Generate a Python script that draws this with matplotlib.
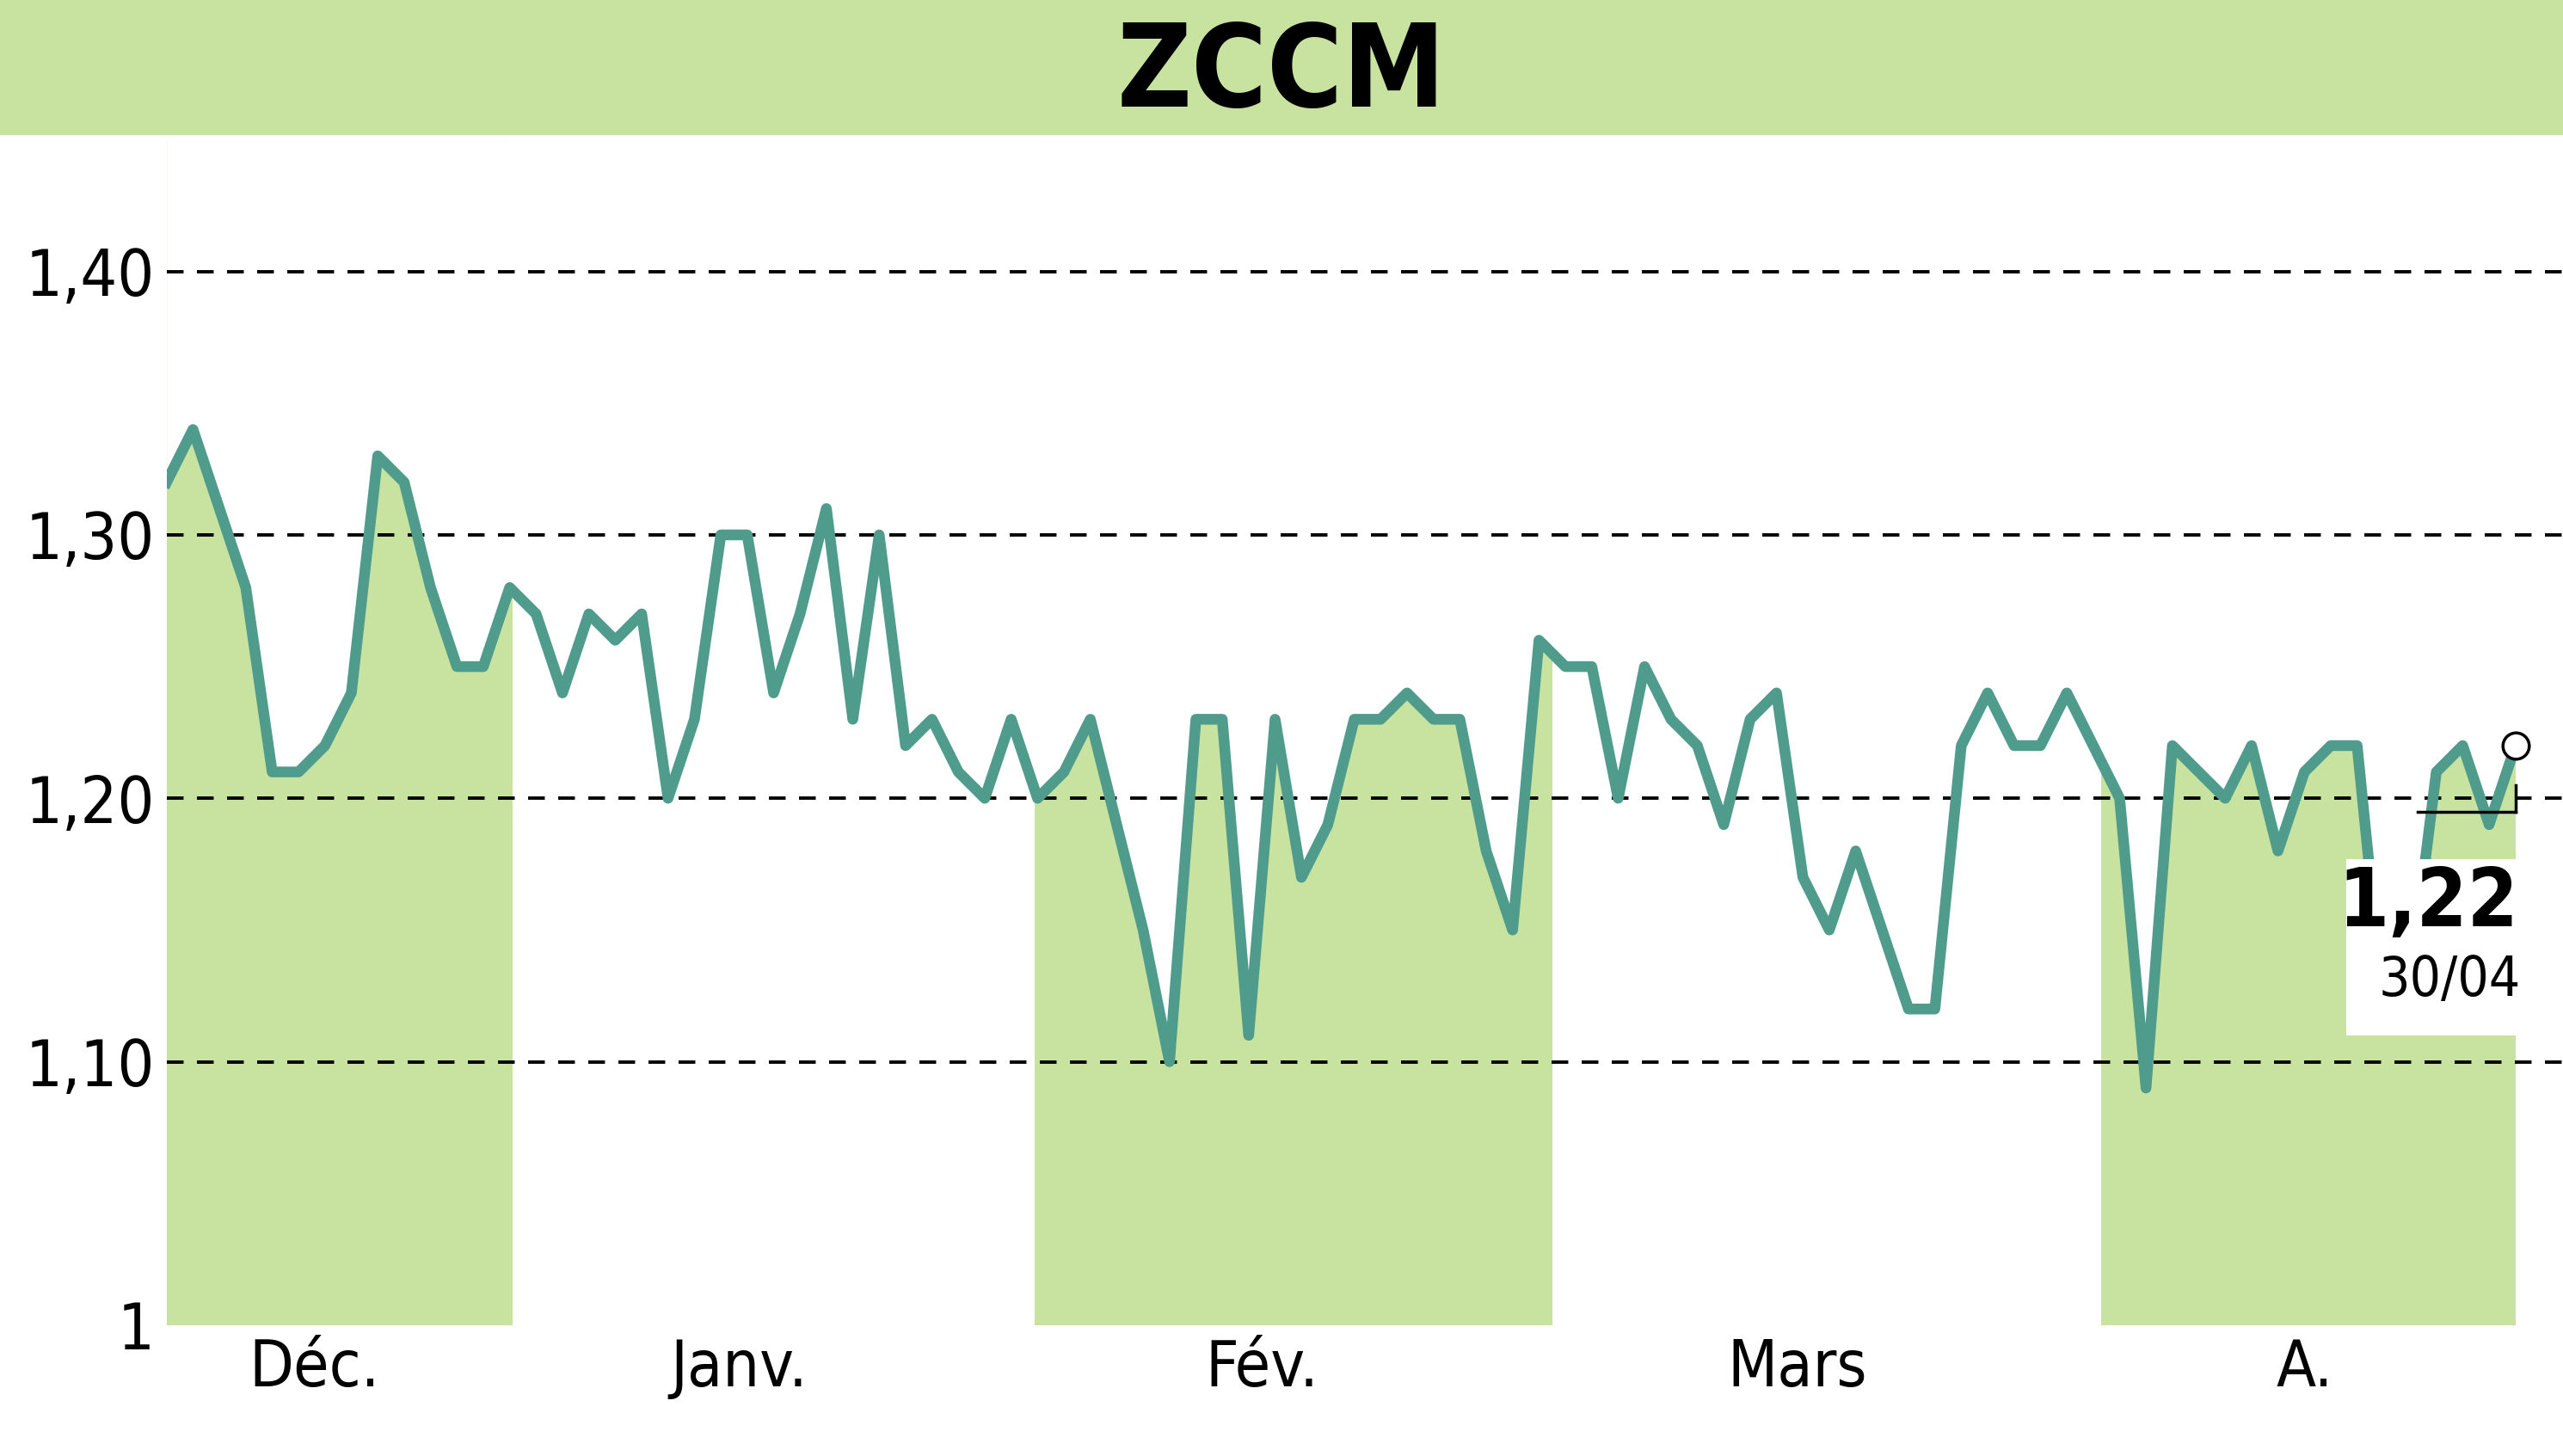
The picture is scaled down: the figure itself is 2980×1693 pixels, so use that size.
import matplotlib.pyplot as plt
import numpy as np
from matplotlib.patches import Rectangle

# ── Data ────────────────────────────────────────────────────────────────────
prices = [1.32, 1.34, 1.31, 1.28, 1.21, 1.21, 1.22, 1.24, 1.33, 1.32,
          1.28, 1.25, 1.25, 1.28, 1.27, 1.24, 1.27, 1.26, 1.27, 1.20,
          1.23, 1.30, 1.30, 1.24, 1.27, 1.31, 1.23, 1.30, 1.22, 1.23,
          1.21, 1.20, 1.23, 1.20, 1.21, 1.23, 1.19, 1.15, 1.10, 1.23,
          1.23, 1.11, 1.23, 1.17, 1.19, 1.23, 1.23, 1.24, 1.23, 1.23,
          1.18, 1.15, 1.26, 1.25, 1.25, 1.20, 1.25, 1.23, 1.22, 1.19,
          1.23, 1.24, 1.17, 1.15, 1.18, 1.15, 1.12, 1.12, 1.22, 1.24,
          1.22, 1.22, 1.24, 1.22, 1.20, 1.09, 1.22, 1.21, 1.20, 1.22,
          1.18, 1.21, 1.22, 1.22, 1.12, 1.13, 1.21, 1.22, 1.19, 1.22]
month_labels = ["Déc.", "Janv.", "Fév.", "Mars", "A."]
month_pos = [5.6, 21.7, 41.5, 61.8, 81.0]
shaded_spans = [(0, 13.1), (32.9, 52.5), (73.3, 89)]
y_ticks = [1.0, 1.1, 1.2, 1.3, 1.4]
y_labels = ["1", "1,10", "1,20", "1,30", "1,40"]
title = "ZCCM"
last_label = "1,22"
last_date = "30/04"

LINE = "#4f9c8c"
FILL = "#c8e2a0"
FONT = {"family": "DejaVu Sans", "stretch": "condensed"}

fig = plt.figure(figsize=(29.8, 16.93), dpi=100)
fig.patch.set_facecolor("white")

# title band
band = fig.add_axes([0, 0.907, 1, 0.093])
band.set_facecolor(FILL)
band.set_xticks([]); band.set_yticks([])
for s in band.spines.values():
    s.set_visible(False)
band.text(0.5, 0.45, title, ha="center", va="center", fontsize=96,
          fontweight="bold", **FONT)

n = len(prices)
x = np.arange(n)
ax = fig.add_axes([0.065, 0.0899, 0.935, 0.8141])
ax.set_xlim(0, 90.8)
ax.set_ylim(1.0, 1.45)

for a, b in shaded_spans:
    ax.fill_between([a, b], [1.45, 1.45], 1.0, color=FILL, lw=0, zorder=1)
# white above the line so shading only sits under it
ax.fill_between(x, prices, 1.45, color="white", lw=0, zorder=2)

for t in y_ticks[1:]:
    ax.axhline(t, color="black", ls=(0, (5, 4)), lw=2.8, zorder=3)

ax.plot(x, prices, color=LINE, lw=9, zorder=4, solid_joinstyle="round")
ax.plot(x[-1], prices[-1], "o", ms=22, mfc="white", mec="black", mew=2.5, zorder=6)
ax.plot([85.3, 89], [1.195, 1.195], color="black", lw=2.5, zorder=6)
ax.plot([89, 89], [1.195, 1.205], color="black", lw=2.5, zorder=6)

ax.add_patch(Rectangle((82.6, 1.11), 6.8, 0.067, facecolor="white",
                       edgecolor="none", zorder=5))
ax.text(89.1, 1.145, last_label, ha="right", va="bottom", fontsize=68,
        fontweight="bold", zorder=7, **FONT)
ax.text(89.2, 1.141, last_date, ha="right", va="top", fontsize=46, zorder=7, **FONT)

ax.set_yticks(y_ticks)
ax.set_yticklabels(y_labels, fontsize=54, **FONT)
ax.set_xticks(month_pos)
ax.set_xticklabels(month_labels, fontsize=54, **FONT)
ax.tick_params(length=0, pad=10)
for s in ax.spines.values():
    s.set_visible(False)
ax.set_facecolor("white")

plt.savefig("out.png", dpi=100)
plt.close()
